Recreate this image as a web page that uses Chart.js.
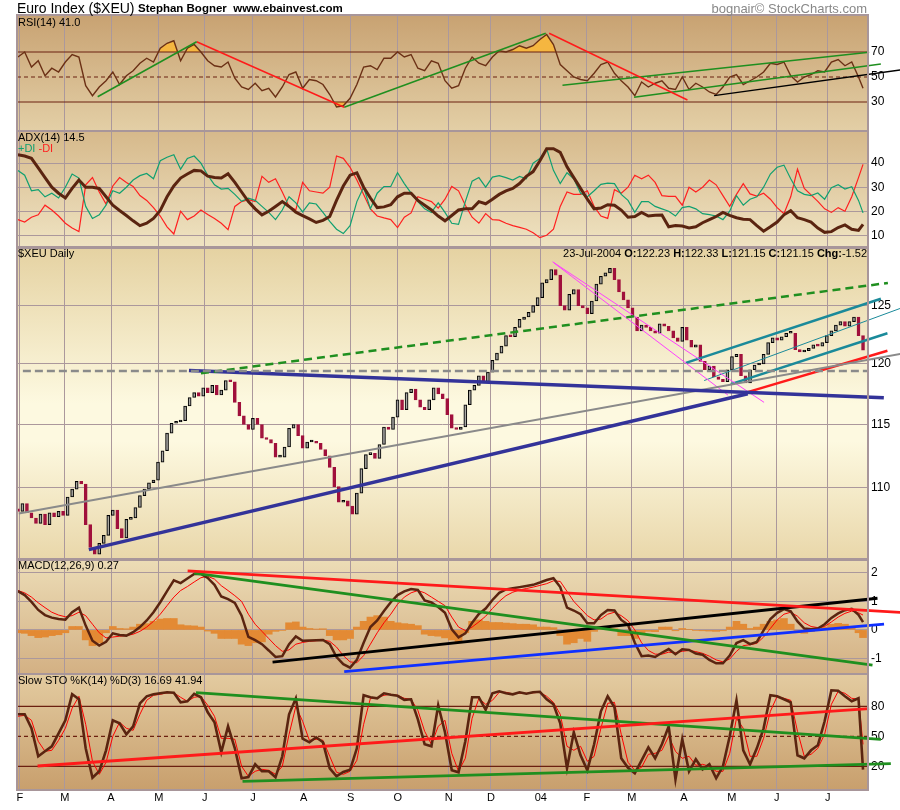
<!DOCTYPE html>
<html>
<head>
<meta charset="utf-8">
<title>Euro Index ($XEU)</title>
<script src="https://cdn.jsdelivr.net/npm/chart.js@4.4.1/dist/chart.umd.min.js"></script>
<style>
body { margin: 0; width: 900px; height: 810px; background: #fff; position: relative; overflow: hidden;
       font-family: "Liberation Sans", Arial, sans-serif; }
canvas { position: absolute; left: 0; }
.t { position: absolute; white-space: nowrap; line-height: 1; color: #000; font-size: 11px; }
</style>
</head>
<body>
<canvas id="rsi"></canvas>
<canvas id="adx"></canvas>
<canvas id="price"></canvas>
<canvas id="macd"></canvas>
<canvas id="sto"></canvas>

<div class="t" style="left:17px;top:1px;font-size:14px">Euro Index ($XEU)</div>
<div class="t" style="left:138px;top:3px;font-size:11.5px;font-weight:bold">Stephan Bogner&nbsp; www.ebainvest.com</div>
<div class="t" style="right:33px;top:2px;font-size:13px;color:#888">bognair&#169; StockCharts.com</div>
<div class="t" style="left:18px;top:17px">RSI(14) 41.0</div>
<div class="t" style="left:18px;top:132px">ADX(14) 14.5</div>
<div class="t" style="left:18px;top:143px"><span style="color:#10a070">+DI</span> <span style="color:#ff2020">-DI</span></div>
<div class="t" style="left:18px;top:248px">$XEU Daily</div>
<div class="t" style="right:33px;top:248px">23-Jul-2004 <b>O:</b>122.23 <b>H:</b>122.33 <b>L:</b>121.15 <b>C:</b>121.15 <b>Chg:</b>-1.52</div>
<div class="t" style="left:18px;top:560px">MACD(12,26,9) 0.27</div>
<div class="t" style="left:18px;top:675px">Slow STO %K(14) %D(3) 16.69 41.94</div>

<script>
// month gridlines (trading-day index) and their labels
const monthDays = [0.9, 20.8, 41.2, 62.4, 82.7, 104.0, 126.5, 147.3, 168.1, 190.7, 209.3, 231.4, 251.8, 271.7, 294.7, 315.9, 335.8, 358.4];
const monthLabels = ['F', 'M', 'A', 'M', 'J', 'J', 'A', 'S', 'O', 'N', 'D', '04', 'F', 'M', 'A', 'M', 'J', 'J'];

// $XEU closes, one every 2 trading days
const priceOpen0 = 108.4;
const priceClose = [108.2,108.8,108.1,107.7,107.3,108.0,107.2,108.1,107.8,108.2,
  107.9,109.3,109.9,110.5,110.3,107.2,105.5,105.0,105.8,106.4,
  107.9,108.3,106.9,106.2,107.6,107.7,108.5,109.4,109.9,110.4,
  110.6,112.0,112.9,114.3,115.1,115.2,115.3,116.5,117.2,117.6,
  117.3,118.0,117.6,118.2,117.4,117.8,118.6,118.5,116.8,115.7,
  115.0,114.6,115.5,115.0,113.9,113.8,113.5,112.4,112.4,113.2,
  114.7,115.0,114.1,113.1,113.6,113.6,113.5,113.0,112.5,111.6,
  110.1,108.9,109.0,108.6,108.0,109.6,111.5,112.6,112.7,112.3,
  113.4,114.8,114.6,115.6,117.0,116.2,117.6,117.9,117.0,116.4,
  116.2,117.0,118.0,117.5,117.1,115.8,114.7,114.6,114.8,116.6,
  117.8,118.2,119.0,118.5,119.3,120.3,120.9,121.5,122.4,122.3,
  123.1,123.8,124.0,124.4,125.0,125.7,127.0,127.3,128.2,127.7,
  125.0,124.6,126.0,126.4,125.0,124.8,124.3,125.4,126.9,127.6,
  127.9,128.3,127.3,126.2,125.5,124.8,124.0,122.8,123.3,123.1,
  122.8,122.6,123.4,123.2,122.8,122.2,121.9,123.1,122.0,121.4,
  121.6,120.2,119.5,119.8,118.9,118.7,118.5,119.5,120.6,120.8,
  119.0,118.4,119.5,119.9,120.0,120.8,121.8,122.2,122.0,122.3,
  122.6,122.6,121.2,121.0,121.1,121.3,121.6,121.5,121.8,122.4,
  122.8,123.3,123.6,123.2,123.6,124.0,122.4,121.15];

// indicators, one every 3 trading days
const rsiValues = [66,70,58,63,51,57,54,62,68,66,
  43,35,42,47,54,44,51,55,61,65,
  62,73,77,79,63,73,76,70,63,59,
  58,62,49,42,40,45,39,41,34,42,
  52,54,41,48,47,44,36,26,27,33,
  44,58,59,56,65,65,70,66,68,57,
  55,63,61,47,41,43,57,66,61,59,
  66,71,70,72,75,73,75,80,84,76,
  60,55,50,48,47,53,60,62,53,47,
  42,35,46,42,45,47,41,40,50,40,
  45,42,38,36,42,50,52,44,47,50,
  54,61,60,62,51,46,50,52,55,54,
  62,64,59,62,50,41];
const adxValues = [43.5,43,42,38,34,30,27.5,25.5,29.5,33,
  30,30,29.5,26,22.5,20.3,18.2,16,14,15,
  17,20.3,26,30.5,33.8,35.5,37,36.8,34.6,34,
  33.8,35.6,32,28,24,21,18.5,20,22,24,
  22,19.6,18.2,16.8,15.3,16.2,17.8,24.5,30.5,35,
  36,30,25.5,21.5,21.8,22.7,26,27.5,27.5,24.5,
  22.5,20.5,18,16,18.2,20.5,21,21,24,23.1,
  25,27,28.5,29.5,31.5,34.5,36.5,41,46,46,
  44.5,38.5,34,29.5,25,21,21.3,22.7,22.5,20.5,
  17.5,17.8,19.5,18,18.3,18.4,13.5,14,13.8,13,
  13.5,15.2,16.5,17.8,19.5,18.3,17.3,16.7,16.5,14,
  11.7,13.5,15.5,18.5,20.2,17.3,16.5,15.5,13,11.2,
  11.5,13.2,14.3,12.5,12,14.5];
const plusDI = [37,35,28.5,29,26,27.5,25.5,30,35.5,33.8,
  22,17,18.5,22.5,28.5,27.5,30,33,34.8,35.7,
  33.5,41,42.5,43.5,37.5,42,43,40,35,31,
  29.2,29.5,27,24.1,25.4,24.5,22,19.5,16.5,20.5,
  26,23.5,19.7,23.5,23,19.5,15.8,12.5,10.7,14,
  24,30,21,27.5,30.3,30.3,36,31.5,27.5,24,
  21,19.5,23.5,19.5,15,14.5,24,32.5,34,30,
  34.2,34.8,34,33,34.5,33.5,40,42,46,37,
  31.5,36,33.5,27.5,26,28.5,31.2,31.7,31.5,27,
  24.5,19.5,24,24,22,21,20,18,21.5,22,
  21,19,18.6,18,16.5,20,26.5,22.5,25,26,
  30,35.5,38.3,39.2,33.5,28.5,27,26.5,27.6,25,
  29.8,31,29.2,30.2,24.5,19.3];
const minusDI = [16.5,15.5,17.5,18.5,22.5,20.5,18,15,13,11.5,
  31,34,28,23,30.5,34,32,30.3,26.5,24.5,
  21.5,18,13.5,10.5,20,16.5,18,20.5,18.6,17,
  15,12.3,22,24,24.8,24,34.5,32,33.5,28,
  22,20.6,32,28.5,28,27.5,30,43,42,38.3,
  33,27,21,18,17.2,16.5,13.2,17.5,19.3,26,
  25,24,21.3,25,30.3,28.5,22.5,17.5,15,19,
  16.5,16.3,15,14,13.3,12.5,11,9,10,12.5,
  22,28,27,27,28.5,22,18,17,29,27.5,
  30,35,33.5,35,32,26.5,26.2,26.2,22.5,30,
  28,30,33,31,26.5,22,27,31.5,27.2,26.3,
  27.5,25,21.5,19,26,37.5,29.5,26.8,24.1,21,
  19.5,21.5,20,26,34,39.5];
const macdValues = [1.36,1.22,0.98,0.7,0.52,0.43,0.38,0.36,0.62,0.78,
  0.15,-0.38,-0.55,-0.42,-0.12,-0.18,-0.2,-0.08,0.1,0.33,
  0.62,0.97,1.36,1.74,1.64,1.8,1.96,1.96,1.82,1.58,
  1.17,1.08,0.95,0.5,-0.24,-0.36,-0.5,-0.72,-0.95,-0.92,
  -0.5,-0.23,-0.38,-0.37,-0.36,-0.35,-0.5,-0.95,-1.2,-1.32,
  -1.05,-0.45,0.1,0.33,0.66,0.97,1.22,1.35,1.43,1.4,
  1.03,0.96,0.8,0.6,0.02,-0.26,-0.12,0.25,0.56,0.75,
  1.05,1.3,1.42,1.46,1.5,1.54,1.58,1.66,1.75,1.81,
  1.5,0.78,0.68,0.55,0.23,0.23,0.52,0.7,0.68,0.35,
  0.18,-0.45,-0.92,-0.9,-0.95,-0.8,-0.67,-0.85,-0.68,-0.7,
  -0.83,-0.87,-1.05,-1.17,-1.17,-0.9,-0.46,-0.36,-0.5,-0.42,
  -0.02,0.38,0.6,0.73,0.65,0.3,0.05,0.02,0.05,0.2,
  0.42,0.58,0.69,0.74,0.53,0.27];
const macdSignal = [1.38,1.3,1.15,0.95,0.78,0.62,0.52,0.46,0.5,0.62,
  0.5,0.2,-0.1,-0.28,-0.25,-0.22,-0.2,-0.15,-0.05,0.1,
  0.3,0.55,0.85,1.15,1.38,1.52,1.68,1.83,1.88,1.78,
  1.55,1.38,1.2,1.0,0.55,0.2,-0.05,-0.3,-0.55,-0.75,
  -0.7,-0.5,-0.44,-0.4,-0.38,-0.36,-0.4,-0.6,-0.9,-1.12,
  -1.15,-0.9,-0.5,-0.1,0.25,0.55,0.9,1.15,1.3,1.38,
  1.3,1.15,1.0,0.85,0.45,0.1,-0.02,0.1,0.28,0.48,
  0.75,1.0,1.2,1.32,1.4,1.45,1.5,1.56,1.62,1.72,
  1.7,1.35,1.0,0.75,0.5,0.35,0.38,0.55,0.62,0.5,
  0.32,0.0,-0.45,-0.72,-0.85,-0.85,-0.78,-0.8,-0.75,-0.72,
  -0.76,-0.82,-0.92,-1.05,-1.12,-1.02,-0.75,-0.55,-0.52,-0.47,
  -0.25,0.05,0.35,0.55,0.62,0.48,0.25,0.12,0.08,0.12,
  0.28,0.45,0.58,0.66,0.6,0.52];
const macdHist = [-0.1,-0.12,-0.2,-0.27,-0.25,-0.2,-0.17,-0.1,0.12,0.12,
  -0.35,-0.55,-0.45,-0.1,0.12,0.05,0.04,0.1,0.2,0.22,
  0.3,0.38,0.4,0.4,0.18,0.15,0.14,0.1,-0.04,-0.12,
  -0.3,-0.3,-0.3,-0.5,-0.55,-0.45,-0.42,-0.15,-0.05,-0.02,
  0.25,0.28,0.1,0.05,0.03,0.04,-0.2,-0.35,-0.35,-0.3,
  0.1,0.3,0.45,0.5,0.45,0.3,0.25,0.22,0.2,0.15,
  -0.15,-0.2,-0.22,-0.28,-0.35,-0.45,-0.1,0.3,0.35,0.3,
  0.26,0.26,0.24,0.22,0.2,0.2,0.18,0.1,0.1,0.08,
  -0.2,-0.5,-0.45,-0.3,-0.4,-0.05,0.1,0.08,0.04,-0.2,
  -0.2,-0.3,-0.1,-0.05,-0.06,0.1,0.1,-0.03,0.05,0.02,
  -0.02,-0.03,-0.04,-0.05,-0.03,0.1,0.3,0.2,0.05,0.1,
  0.2,0.3,0.35,0.4,0.2,-0.1,-0.12,-0.06,0,0.1,
  0.2,0.23,0.2,0.12,-0.1,-0.27];
const stoK = [72,72,58,30,35,40,53,66,92,87,
  38,8.5,15,36,66,63,52,60,83,90,
  92,93,94,93.5,84,85,92.5,89,74,64,
  34,60,38,8,9.3,22,15,15,9,30,
  72,88,47.6,44,49,44,18,10,14.3,16.5,
  38,91,89,88,93,91.5,90.5,86.5,87,67,
  42,40,81,54,16,14,45,89,89,76.5,
  93,95,93,92,94,92.6,94,94.5,87,82,
  63,18,54,31,16,42,75,90,79,28,
  18.5,13,26,39,28,42,60,7,47,15,
  27,17,22,8,20,50,86,36,22,38,
  58,91,90,87,84,31,28,36,41,65,
  96,95.5,90,85,88,16.69];
const stoD = [70,71,66,45,35,36,46,58,78,90,
  62,25,12,24,50,64,58,56,72,86,
  91,92,93.5,93.5,89,85,89,90,81,70,
  48,48,47,20,10,15,17,16,12,20,
  52,80,65,46,47,46,30,14,12,15,
  26,62,88,88.5,91,92,91,88,87,76,
  55,42,60,66,33,15,28,68,88,82,
  86,94,94,92.5,93,93,93.5,94,90,84,
  72,40,36,40,25,30,58,83,84,52,
  24,16,19,32,33,36,50,35,28,30,
  21,22,20,15,15,33,68,58,30,30,
  48,75,90,88,86,55,30,32,38,52,
  82,95,93,88,87,41.94];

// hand drawn trendlines: [day1, value1, day2, value2]
const priceTrendLines = [
  [2.2, 119.4, 376.2, 119.4],     // grey dashed
  [81.0, 119.2, 385.0, 127.0],    // green dashed
  [75.7, 119.44, 383.2, 117.17],  // navy, flat
  [31.4, 105.34, 323.0, 117.5],   // navy, rising
  [0.4, 108.04, 390.7, 120.84],   // grey, rising
  [236.6, 128.9, 330.2, 116.8],   // magenta
  [237.2, 128.8, 314.2, 117.4],   // magenta
  [295.6, 120.08, 381.9, 125.6],  // teal upper
  [303.7, 118.6, 390.7, 124.77],  // teal middle
  [315.5, 118.3, 384.8, 122.6],   // teal lower
  [322.9, 117.64, 384.8, 121.1]   // red
];
const rsiTrendLines = [
  [35.3, 34.2, 79.1, 78.2],
  [79.1, 78.2, 144.4, 25.8],
  [144.4, 25.8, 233.6, 85],
  [235.1, 85, 296.3, 31.6],
  [241.0, 43.4, 376.7, 69.8],
  [272.7, 33.8, 381.9, 60.4],
  [308.1, 35.1, 390.7, 55.6]
];
const macdTrendLines = [
  [75.1, 2.07, 390.7, 0.61],
  [78.0, 1.99, 378.2, -1.23],
  [112.7, -1.13, 380.4, 1.11],
  [144.4, -1.46, 383.3, 0.2]
];
const stoTrendLines = [
  [8.7, 20.3, 376.7, 77.6],
  [78.8, 93.6, 381.9, 47],
  [99.4, 5, 386.3, 22.6]
];
const rsiLevels = [70, 50, 30];
const stoLevels = [80, 50, 20];

// ---- styling ----
const FONT = '"Liberation Sans", Arial, sans-serif';
const GRID = '#ab989c';
const BROWN = '#5a2410';
const LEVEL = '#6b2010';
const CRIMSON = '#a0103c';
const OB = '#f5b640';
const GREEN = '#1f8f1f';
const RED = '#ff1a1a';
const DAY_MIN = -0.4, DAY_MAX = 376.2;

Chart.defaults.font.family = FONT;

function priceDay(i) { return i * 2; }
function indDay(i) { return Math.min(i * 3, 374); }
function series(values, dayOf) { return values.map((v, i) => ({ x: dayOf(i), y: v })); }
function segment(l) { return [{ x: l[0], y: l[1] }, { x: l[2], y: l[3] }]; }
function level(v) { return [{ x: DAY_MIN, y: v }, { x: DAY_MAX, y: v }]; }

function lineDs(data, color, width, extra) {
  return Object.assign({ type: 'line', data: data, borderColor: color, borderWidth: width,
    pointRadius: 0, tension: 0, fill: false, order: 1 }, extra || {});
}
function trendDs(l, color, width, dash) {
  return lineDs(segment(l), color, width, { clip: false, order: 0, borderDash: dash || [] });
}

const bgPlugin = {
  id: 'panelBg',
  beforeDraw(chart, args, opts) {
    const ctx = chart.ctx, a = chart.chartArea;
    const g = ctx.createLinearGradient(0, a.top, 0, a.bottom);
    opts.stops.forEach(s => g.addColorStop(s[0], s[1]));
    ctx.save();
    ctx.fillStyle = g;
    ctx.fillRect(a.left, a.top, a.right - a.left, a.bottom - a.top);
    ctx.restore();
  },
  afterDraw(chart) {
    const ctx = chart.ctx, a = chart.chartArea;
    ctx.save();
    ctx.strokeStyle = '#a8969a';
    ctx.lineWidth = 2;
    ctx.strokeRect(a.left, a.top, a.right - a.left, a.bottom - a.top);
    ctx.restore();
  }
};

function xScale(labels) {
  return {
    type: 'linear', min: DAY_MIN, max: DAY_MAX, bounds: 'data', offset: false,
    afterBuildTicks: s => { s.ticks = monthDays.map(v => ({ value: v })); },
    afterFit: s => { s.height = labels ? 20 : 0; s.paddingLeft = 0; s.paddingRight = 0; },
    grid: { color: GRID, lineWidth: 1, drawTicks: false, offset: false },
    border: { display: false },
    ticks: { display: labels, autoSkip: false, maxRotation: 0, padding: 1, color: '#000',
      font: { size: 11, family: FONT }, callback: (v, i) => monthLabels[i] }
  };
}

function yScale(type, min, max, tickVals, showGrid) {
  return {
    type: type, min: min, max: max, bounds: 'data', position: 'right',
    afterBuildTicks: s => { s.ticks = tickVals.map(v => ({ value: v })); },
    afterFit: s => { s.width = 32; s.paddingTop = 0; s.paddingBottom = 0; },
    grid: { display: showGrid, color: GRID, lineWidth: 1, drawTicks: false },
    border: { display: false },
    ticks: { color: '#000', font: { size: 12, family: FONT }, padding: 3, callback: v => String(v) }
  };
}

function panel(id, top, height, labels, yCfg, stops, datasets, type) {
  const c = document.getElementById(id);
  c.width = 900;
  c.height = height + 2 + (labels ? 20 : 2);
  c.style.top = (top - 2) + 'px';
  return new Chart(c, {
    type: type || 'line',
    data: { datasets: datasets },
    options: {
      responsive: false, animation: false, events: [],
      layout: { padding: { left: 17, right: 0, top: 2, bottom: labels ? 0 : 2 } },
      plugins: { legend: { display: false }, tooltip: { enabled: false }, panelBg: { stops: stops } },
      scales: { x: xScale(labels), y: yCfg }
    },
    plugins: [bgPlugin]
  });
}

// RSI
const rsiPts = series(rsiValues, indDay);
const rsiColors = [GREEN, RED, GREEN, RED, GREEN, GREEN, '#000'];
panel('rsi', 15, 116, false, yScale('linear', 6.8, 99.6, rsiLevels, false),
  [[0, '#c8a272'], [1, '#e3cfa6']],
  [
    ...rsiTrendLines.map((l, i) => trendDs(l, rsiColors[i], 1.5)),
    lineDs(rsiPts, '#6b3015', 1.4),
    lineDs(rsiPts, 'rgba(0,0,0,0)', 0, { order: 3, fill: { target: { value: 70 }, above: OB, below: 'rgba(0,0,0,0)' } }),
    lineDs(rsiPts, 'rgba(0,0,0,0)', 0, { order: 3, fill: { target: { value: 30 }, above: 'rgba(0,0,0,0)', below: OB } }),
    lineDs(level(rsiLevels[0]), LEVEL, 1.2, { order: 2 }),
    lineDs(level(rsiLevels[1]), LEVEL, 1.2, { order: 2, borderDash: [4, 3] }),
    lineDs(level(rsiLevels[2]), LEVEL, 1.2, { order: 2 })
  ]);

// ADX
panel('adx', 131, 116.5, false, yScale('linear', 5.1, 53.4, [10, 20, 30, 40], true),
  [[0, '#d6b98b'], [1, '#efe3c2']],
  [
    lineDs(series(adxValues, indDay), BROWN, 3, { order: 0 }),
    lineDs(series(plusDI, indDay), '#10a070', 1.2),
    lineDs(series(minusDI, indDay), '#ff2020', 1.2)
  ]);

// Price
const candleData = priceClose.map((c, i) => ({ x: priceDay(i), y: [i ? priceClose[i - 1] : priceOpen0, c] }));
const candleUp = candleData.map(d => d.y[1] >= d.y[0]);
const priceStyles = [
  ['#8a8a8a', 2.5, [8, 4]], [GREEN, 2.5, [8, 5]], ['#333399', 3.5], ['#333399', 3.5], ['#8a8a8a', 2],
  ['#ff40ff', 1], ['#ff40ff', 1], ['#1a8a9a', 2.5], ['#1a8a9a', 1], ['#1a8a9a', 2.5], [RED, 2.5]
];
panel('price', 247.5, 311, false, yScale('logarithmic', 104.65, 130.15, [110, 115, 120, 125], true),
  [[0, '#e5d2a2'], [0.5, '#fdf9e0'], [0.62, '#fdf9e0'], [1, '#e9d7aa']],
  [
    ...priceTrendLines.map((l, i) => trendDs(l, priceStyles[i][0], priceStyles[i][1], priceStyles[i][2])),
    {
      type: 'bar', data: candleData, barThickness: 3, borderWidth: 1, borderSkipped: false, minBarLength: 2,
      backgroundColor: candleUp.map(u => u ? 'rgba(255,255,255,0.5)' : CRIMSON),
      borderColor: candleUp.map(u => u ? '#000' : CRIMSON),
      order: 1
    }
  ], 'bar');

// MACD
const macdColors = [RED, GREEN, '#000', '#1030ff'];
panel('macd', 559.5, 115, false, yScale('linear', -1.58, 2.45, [-1, 0, 1, 2], true),
  [[0, '#ecdcb6'], [1, '#d3b083']],
  [
    ...macdTrendLines.map((l, i) => trendDs(l, macdColors[i], 2.8)),
    lineDs(series(macdValues, indDay), BROWN, 2.5),
    lineDs(series(macdSignal, indDay), '#ff0000', 1),
    { type: 'bar', data: series(macdHist, indDay), backgroundColor: '#e38a34', barThickness: 7, borderWidth: 0, order: 3 }
  ], 'bar');

// Slow stochastic
const stoColors = [RED, GREEN, GREEN];
panel('sto', 674, 116, true, yScale('linear', -3.7, 112.3, stoLevels, false),
  [[0, '#e3cba0'], [1, '#c89f6d']],
  [
    ...stoTrendLines.map((l, i) => trendDs(l, stoColors[i], 2.8)),
    lineDs(series(stoK, indDay), BROWN, 2.6),
    lineDs(series(stoD, indDay), '#ff0000', 1),
    lineDs(level(stoLevels[0]), LEVEL, 1.2, { order: 2 }),
    lineDs(level(stoLevels[1]), LEVEL, 1.2, { order: 2, borderDash: [4, 3] }),
    lineDs(level(stoLevels[2]), LEVEL, 1.2, { order: 2 })
  ]);
</script>
</body>
</html>
